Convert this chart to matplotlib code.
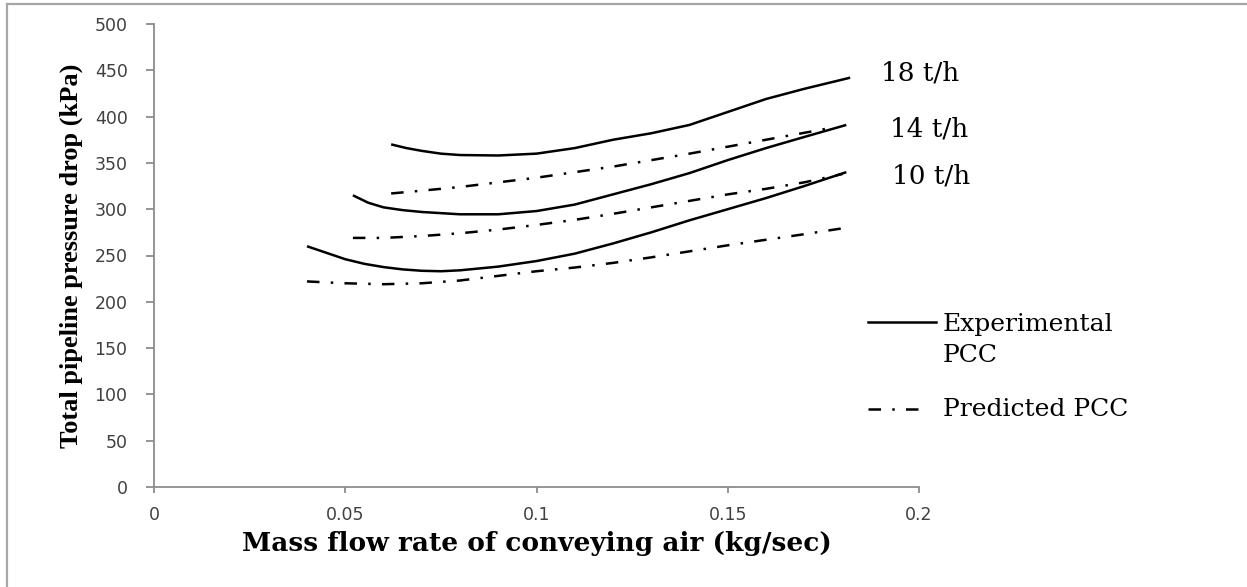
import matplotlib
matplotlib.use('Agg')
import matplotlib.pyplot as plt
from matplotlib.lines import Line2D

# experimental and predicted pipeline pressure drop for three solids feed rates
x_exp18 = [0.062, 0.066, 0.07, 0.075, 0.08, 0.09, 0.1, 0.11, 0.12, 0.13, 0.14, 0.15, 0.16, 0.17, 0.182]
p_exp18 = [370, 366, 363, 360, 358.5, 358, 360, 366, 375, 382, 391, 405, 419, 430, 442]
x_pre18 = [0.062, 0.07, 0.08, 0.09, 0.1, 0.11, 0.12, 0.13, 0.14, 0.15, 0.16, 0.17, 0.176]
p_pre18 = [317, 320, 324, 329, 334, 340, 346, 353, 360, 367.5, 375, 382.5, 387]

x_exp14 = [0.052, 0.056, 0.06, 0.065, 0.07, 0.08, 0.09, 0.1, 0.11, 0.12, 0.13, 0.14, 0.15, 0.16, 0.17, 0.181]
p_exp14 = [315, 307, 302, 299, 297, 294.5, 294.5, 298, 305, 316, 327, 339, 353, 366, 378, 391]
x_pre14 = [0.052, 0.06, 0.07, 0.08, 0.09, 0.1, 0.11, 0.12, 0.13, 0.14, 0.15, 0.16, 0.17, 0.18]
p_pre14 = [269, 269, 271, 274, 278, 283, 288.5, 295, 302, 309, 316, 322, 329, 338]

x_exp10 = [0.04, 0.045, 0.05, 0.055, 0.06, 0.065, 0.07, 0.075, 0.08, 0.09, 0.1, 0.11, 0.12, 0.13, 0.14, 0.15, 0.16, 0.17, 0.181]
p_exp10 = [260, 253, 246, 241, 237.5, 235, 233.5, 233, 234, 238, 244, 252, 263, 275, 288, 300, 312, 325, 340]
x_pre10 = [0.04, 0.05, 0.06, 0.07, 0.08, 0.09, 0.1, 0.11, 0.12, 0.13, 0.14, 0.15, 0.16, 0.17, 0.181]
p_pre10 = [222, 220, 219, 220, 223, 228, 233, 237, 242, 248, 254.5, 261, 267, 273, 280]

rate_labels = ['18 t/h', '14 t/h', '10 t/h']
rate_label_pos = [(0.19, 447), (0.1925, 387), (0.193, 336)]

xticks = [0, 0.05, 0.1, 0.15, 0.2]
xticklabels = ['0', '0.05', '0.1', '0.15', '0.2']
yticks = list(range(0, 501, 50))

W, H = 1247, 587
fig = plt.figure(figsize=(W / 100, H / 100), dpi=100)
ax = fig.add_axes([154 / W, 1 - 487 / H, 765 / W, 463 / H])

dashdot = (0, (5, 4.5, 1, 4.5))
lw = 1.8
for xs, ys in [(x_exp18, p_exp18), (x_exp14, p_exp14), (x_exp10, p_exp10)]:
    ax.plot(xs, ys, color='black', lw=lw, solid_capstyle='butt')
for xs, ys in [(x_pre18, p_pre18), (x_pre14, p_pre14), (x_pre10, p_pre10)]:
    ax.plot(xs, ys, color='black', lw=lw, linestyle=dashdot)

for lab, (tx, ty) in zip(rate_labels, rate_label_pos):
    ax.text(tx, ty, lab, fontsize=19, family='DejaVu Serif', ha='left', va='center')

ax.set_xlim(0, 0.2)
ax.set_ylim(0, 500)
ax.set_xticks(xticks)
ax.set_xticklabels(xticklabels)
ax.set_yticks(yticks)

for side in ['top', 'right']:
    ax.spines[side].set_visible(False)
for side in ['left', 'bottom']:
    ax.spines[side].set_color('#8c8c8c')
    ax.spines[side].set_linewidth(1.3)

ax.tick_params(axis='y', direction='out', length=6, width=1.3, color='#8c8c8c',
               pad=13, labelsize=12.5, labelcolor='#404040')
ax.tick_params(axis='x', direction='out', length=4.5, width=1.3, color='#8c8c8c',
               pad=9, labelsize=12.5, labelcolor='#404040')

ax.set_xlabel('Mass flow rate of conveying air (kg/sec)', fontsize=19,
              family='DejaVu Serif', fontweight='bold')
ax.xaxis.set_label_coords(0.5, -0.096)
ax.set_ylabel('Total pipeline pressure drop (kPa)', fontsize=19,
              family='Liberation Serif', fontweight='bold')
ax.yaxis.set_label_coords(-0.093, 0.5)

# legend keys drawn by hand beside the plot
fig.add_artist(Line2D([868 / W, 936 / W], [1 - 322 / H] * 2, color='black', lw=lw,
                      transform=fig.transFigure))
fig.add_artist(Line2D([868 / W, 927 / W], [1 - 409 / H] * 2, color='black', lw=lw,
                      linestyle=dashdot, transform=fig.transFigure))
fig.text(943 / W, 1 - 325 / H, 'Experimental', fontsize=18, family='DejaVu Serif',
         ha='left', va='center')
fig.text(943 / W, 1 - 356 / H, 'PCC', fontsize=18, family='DejaVu Serif',
         ha='left', va='center')
fig.text(943 / W, 1 - 410 / H, 'Predicted PCC', fontsize=18, family='DejaVu Serif',
         ha='left', va='center')

# outer border (top and left edges)
fig.add_artist(Line2D([7 / W, 1], [1 - 4 / H] * 2, color='#a6a6a6', lw=1.6,
                      transform=fig.transFigure))
fig.add_artist(Line2D([7 / W] * 2, [0, 1 - 4 / H], color='#a6a6a6', lw=1.6,
                      transform=fig.transFigure))

fig.savefig('out.png', dpi=100)
